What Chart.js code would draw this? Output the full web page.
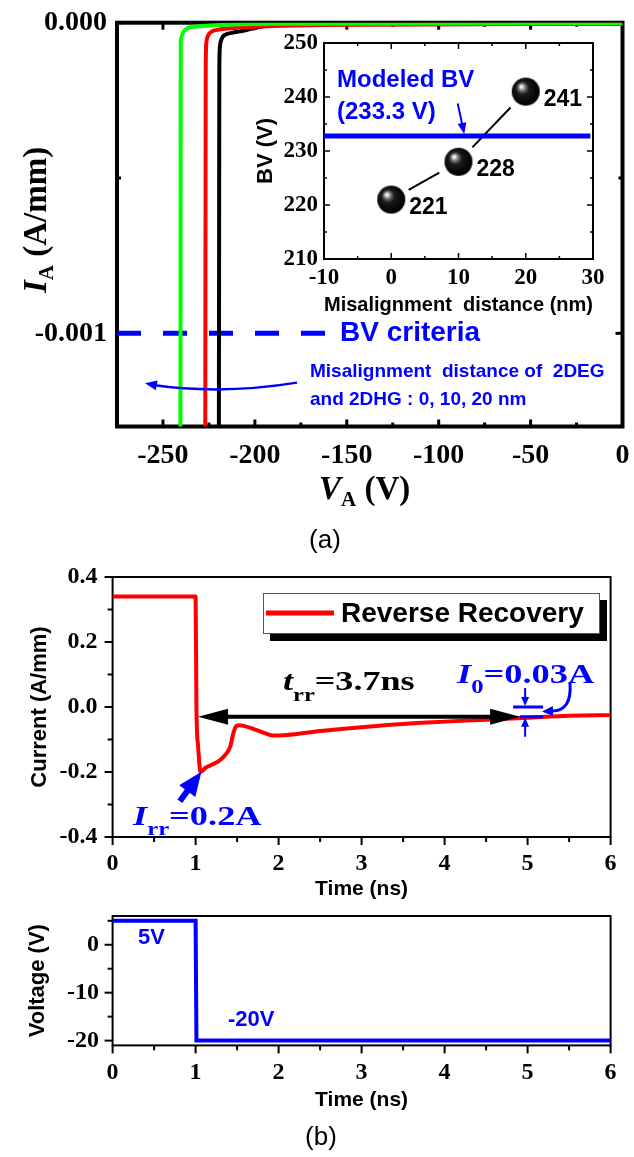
<!DOCTYPE html>
<html><head><meta charset="utf-8">
<script src="https://cdn.jsdelivr.net/npm/chart.js@4.4.0/dist/chart.umd.min.js"></script>
<style>
html,body{margin:0;padding:0;background:#fff;}
body{width:634px;height:1157px;position:relative;overflow:hidden;}
canvas{position:absolute;display:block;}
</style></head>
<body>
<canvas id="cA" width="634" height="560" style="left:0;top:0;width:634px;height:560px"></canvas>
<canvas id="cIn" width="400" height="305" style="left:230px;top:20px;width:400px;height:305px"></canvas>
<canvas id="cB" width="634" height="345" style="left:0;top:560px;width:634px;height:345px"></canvas>
<canvas id="cC" width="634" height="252" style="left:0;top:905px;width:634px;height:252px"></canvas>
<script>
// ---------------- (a) main I-V curves (V_A in V, I_A in A/mm) ----------------
const vGreen = [-240.5, -240.4, -240.35, -240.3, -239.8, -239.0, -238.0, -236.5, -234.5, -231, -225, -212, -190, 0];
const iGreen = [-1.4e-3, -7e-4, -2e-4, -6e-5, -4.3e-5, -3.1e-5, -2.3e-5, -1.75e-5, -1.4e-5, -1.15e-5, -9e-6, -5.5e-6, -3e-6, -2e-6];
const vRed = [-227.0, -226.85, -226.75, -226.6, -226.3, -225.7, -224.8, -223.6, -222, -219.5, -215, -205, -190, -150, 0];
const iRed = [-1.4e-3, -7e-4, -2e-4, -9e-5, -6e-5, -4.5e-5, -3.5e-5, -2.9e-5, -2.5e-5, -2.2e-5, -1.9e-5, -1.5e-5, -1.1e-5, -7e-6, -4e-6];
const vBlack = [-219.6, -219.45, -219.35, -219.2, -218.9, -218.3, -217.4, -216.2, -214.5, -212, -208, -202, -196, -185, -150, 0];
const iBlack = [-1.4e-3, -7e-4, -2e-4, -1e-4, -7.2e-5, -5.6e-5, -4.5e-5, -3.9e-5, -3.5e-5, -3.2e-5, -2.8e-5, -2e-5, -1.2e-5, -8e-6, -5e-6, -4e-6];
const mainXTicks = [-250, -200, -150, -100, -50, 0];
const mainXTickLabels = ['-250', '-200', '-150', '-100', '-50', '0'];
const mainXMinor = [-275, -225, -175, -125, -75, -25];
const mainYTicks = [0, -0.001];
const mainYTickLabels = ['0.000', '-0.001'];
const mainYMinor = [-0.0005];
const bvCriteria = -0.001;
const bvCriteriaEnd = -161.5;

// ---------------- inset: BV vs misalignment ----------------
const misalign = [0, 10, 20];
const bvValues = [221, 228, 241];
const modeledBV = 232.8;
const insetXTicks = [-10, 0, 10, 20, 30];
const insetXTickLabels = ['-10', '0', '10', '20', '30'];
const insetXMinor = [-5, 5, 15, 25];
const insetYTicks = [210, 220, 230, 240, 250];
const insetYTickLabels = ['210', '220', '230', '240', '250'];
const insetYMinor = [215, 225, 235, 245];

// ---------------- (b) reverse recovery current ----------------
const tCurrent = [0, 1.0, 1.01, 1.03, 1.06, 1.12, 1.2, 1.27, 1.33, 1.38, 1.42, 1.45, 1.48, 1.52, 1.58, 1.7, 1.85, 1.93, 2.1, 2.5, 3.0, 3.5, 4.0, 4.5, 5.0, 5.5, 6.0];
const iCurrent = [0.34, 0.34, 0.0, -0.12, -0.2, -0.187, -0.177, -0.168, -0.155, -0.14, -0.12, -0.085, -0.062, -0.056, -0.058, -0.068, -0.082, -0.088, -0.086, -0.074, -0.062, -0.052, -0.045, -0.039, -0.033, -0.027, -0.025];
const timeTicks = [0, 1, 2, 3, 4, 5, 6];
const timeTickLabels = ['0', '1', '2', '3', '4', '5', '6'];
const timeMinor = [0.5, 1.5, 2.5, 3.5, 4.5, 5.5];
const curYTicks = [0.4, 0.2, 0.0, -0.2, -0.4];
const curYTickLabels = ['0.4', '0.2', '0.0', '-0.2', '-0.4'];
const curYMinor = [0.3, 0.1, -0.1, -0.3];
const trrStart = 1.03, trrEnd = 4.91, trrLevel = -0.03;
const irrTail = [0.81, -0.29], irrTip = [1.07, -0.199];

// ---------------- (b) applied voltage ----------------
const tVoltage = [0, 1.0, 1.01, 6];
const vVoltage = [5, 5, -20, -20];
const voltYTicks = [0, -10, -20];
const voltYTickLabels = ['0', '-10', '-20'];
const voltYMinor = [5, -5, -15];

// ---------------- helpers ----------------
const BLUE = '#0000ff';
const SERIF = '"Liberation Serif","Times New Roman",serif';
const SANS = '"Liberation Sans",Arial,sans-serif';
const pts = (xs, ys) => xs.map((x, i) => ({x, y: ys[i]}));

function axis(vals, labels, font, pad, size, isX, extra) {
  return Object.assign({
    type: 'linear',
    afterBuildTicks: s => { s.ticks = vals.map(v => ({value: v})); },
    afterFit: s => {
      if (isX) s.height = size; else s.width = size;
      s.paddingTop = 0; s.paddingBottom = 0; s.paddingLeft = 0; s.paddingRight = 0;
    },
    ticks: {font, color: '#000', padding: pad, autoSkip: false, maxRotation: 0, minRotation: 0,
            callback: (v, i) => labels[i]},
    grid: {display: false, drawTicks: false},
    border: {display: false}
  }, extra || {});
}

function makeFrame(cfg) {
  return {
    id: 'frame',
    beforeDatasetsDraw(chart) {
      const {ctx, chartArea: a} = chart;
      const sx = chart.scales.x, sy = chart.scales.y;
      ctx.save();
      ctx.strokeStyle = '#000';
      ctx.lineWidth = cfg.tickWidth;
      const dx = (vals, len) => vals.forEach(v => {
        const p = sx.getPixelForValue(v);
        ctx.beginPath(); ctx.moveTo(p, a.bottom); ctx.lineTo(p, a.bottom - (cfg.inward ? len : -len)); ctx.stroke();
        if (cfg.mirror) { ctx.beginPath(); ctx.moveTo(p, a.top); ctx.lineTo(p, a.top + (cfg.inward ? len : -len)); ctx.stroke(); }
      });
      const dy = (vals, len) => vals.forEach(v => {
        const p = sy.getPixelForValue(v);
        ctx.beginPath(); ctx.moveTo(a.left, p); ctx.lineTo(a.left + (cfg.inward ? len : -len), p); ctx.stroke();
        if (cfg.mirror) { ctx.beginPath(); ctx.moveTo(a.right, p); ctx.lineTo(a.right - (cfg.inward ? len : -len), p); ctx.stroke(); }
      });
      dx(cfg.xMajor, cfg.major); dx(cfg.xMinor, cfg.minor);
      dy(cfg.yMajor, cfg.major); dy(cfg.yMinor, cfg.minor);
      ctx.lineWidth = cfg.lineWidth;
      ctx.strokeRect(a.left, a.top, a.right - a.left, a.bottom - a.top);
      ctx.restore();
    }
  };
}

function text(ctx, s, x, y, font, color, align, baseline, sx) {
  ctx.save(); ctx.translate(x, y); ctx.scale(sx || 1, 1);
  ctx.font = font; ctx.fillStyle = color; ctx.textAlign = align || 'left'; ctx.textBaseline = baseline || 'middle';
  ctx.fillText(s, 0, 0); ctx.restore();
}
function rich(ctx, parts, x, y, color, sx, rot) {
  ctx.save(); ctx.translate(x, y); if (rot) ctx.rotate(rot); ctx.scale(sx || 1, 1);
  ctx.fillStyle = color; ctx.textAlign = 'left'; ctx.textBaseline = 'alphabetic';
  let cx = 0;
  for (const p of parts) { ctx.font = p.f; ctx.fillText(p.t, cx, p.dy || 0); cx += ctx.measureText(p.t).width; }
  ctx.restore();
}
function head(ctx, x1, y1, x2, y2, len, half) {
  const a = Math.atan2(y2 - y1, x2 - x1), c = Math.cos(a), s = Math.sin(a);
  ctx.beginPath(); ctx.moveTo(x2, y2);
  ctx.lineTo(x2 - len * c + half * s, y2 - len * s - half * c);
  ctx.lineTo(x2 - len * c - half * s, y2 - len * s + half * c);
  ctx.closePath(); ctx.fill();
}
function arrow(ctx, x1, y1, x2, y2, lw, len, half, color) {
  ctx.save(); ctx.strokeStyle = color; ctx.fillStyle = color; ctx.lineWidth = lw;
  const a = Math.atan2(y2 - y1, x2 - x1);
  ctx.beginPath(); ctx.moveTo(x1, y1); ctx.lineTo(x2 - len * 0.7 * Math.cos(a), y2 - len * 0.7 * Math.sin(a)); ctx.stroke();
  head(ctx, x1, y1, x2, y2, len, half); ctx.restore();
}
function makeSphere(r) {
  const c = document.createElement('canvas'); const s = 2 * r + 2; c.width = s; c.height = s;
  const g = c.getContext('2d'); const cx = r + 1, cy = r + 1;
  const gr = g.createRadialGradient(cx - r * 0.33, cy - r * 0.38, 0, cx - r * 0.1, cy - r * 0.1, r * 1.05);
  gr.addColorStop(0, '#ffffff'); gr.addColorStop(0.1, '#e0e0e0'); gr.addColorStop(0.25, '#707070');
  gr.addColorStop(0.45, '#1a1a1a'); gr.addColorStop(1, '#000000');
  g.fillStyle = gr; g.beginPath(); g.arc(cx, cy, r, 0, Math.PI * 2); g.fill();
  return c;
}

const common = {
  responsive: false, animation: false, devicePixelRatio: 1, events: [],
  plugins: {legend: {display: false}, tooltip: {enabled: false}}
};
const lineDs = (label, data, color, w) => ({label, data, borderColor: color, backgroundColor: color, borderWidth: w,
  pointRadius: 0, fill: false, cubicInterpolationMode: 'monotone', borderJoinStyle: 'round', borderCapStyle: 'butt'});

// ================= (a) main chart =================
new Chart(document.getElementById('cA'), {
  type: 'line',
  data: {datasets: [
    lineDs('20 nm', pts(vGreen, iGreen), '#00ff00', 4),
    lineDs('10 nm', pts(vRed, iRed), '#ff0000', 4),
    lineDs('0 nm', pts(vBlack, iBlack), '#000000', 4)
  ]},
  options: Object.assign({}, common, {
    layout: {padding: {left: 0, top: 22.7, right: 11.5, bottom: 0}},
    scales: {
      x: axis(mainXTicks, mainXTickLabels, {family: SERIF, size: 28, weight: 'bold'}, 12, 133.5, true, {min: -275, max: 0}),
      y: axis(mainYTicks, mainYTickLabels, {family: SERIF, size: 28, weight: 'bold'}, 10, 117, false, {min: -0.0013, max: 0})
    }
  }),
  plugins: [
    makeFrame({inward: true, mirror: true, lineWidth: 4, tickWidth: 3, major: 7, minor: 4,
      xMajor: mainXTicks, xMinor: mainXMinor, yMajor: mainYTicks, yMinor: mainYMinor}),
    {
      id: 'annA',
      beforeDatasetsDraw(chart) {
        const {ctx} = chart, X = v => chart.scales.x.getPixelForValue(v), Y = v => chart.scales.y.getPixelForValue(v);
        ctx.save(); ctx.strokeStyle = BLUE; ctx.lineWidth = 5; ctx.setLineDash([24, 22]);
        ctx.beginPath(); ctx.moveTo(X(-275), Y(bvCriteria)); ctx.lineTo(X(bvCriteriaEnd), Y(bvCriteria)); ctx.stroke();
        ctx.restore();
      },
      afterDatasetsDraw(chart) {
        const {ctx} = chart, X = v => chart.scales.x.getPixelForValue(v), Y = v => chart.scales.y.getPixelForValue(v);
        text(ctx, 'BV criteria', 340, Y(bvCriteria), 'bold 28px ' + SANS, BLUE);
        text(ctx, 'Misalignment  distance of  2DEG', 310, 372, 'bold 19px ' + SANS, BLUE);
        text(ctx, 'and 2DHG : 0, 10, 20 nm', 310, 400, 'bold 19px ' + SANS, BLUE);
        // curved arrow
        const x1 = X(-177.1), y1 = Y(-0.0011588), cx = X(-218.4), cy = Y(-0.0011985), x2 = X(-259.8), y2 = Y(-0.0011608);
        ctx.save(); ctx.strokeStyle = BLUE; ctx.fillStyle = BLUE; ctx.lineWidth = 2.5;
        ctx.beginPath(); ctx.moveTo(x1, y1); ctx.quadraticCurveTo(cx, cy, x2 + 6, y2 + 1.5); ctx.stroke();
        head(ctx, x2 + 14, y2 + 2.5, x2, y2, 12, 5);
        ctx.restore();
        // axis titles
        const T = (st) => st + ' ' + SERIF;
        rich(ctx, [{t: 'I', f: T('italic bold 33px')}, {t: 'A', f: T('bold 21px'), dy: 7}, {t: ' (A/mm)', f: T('bold 33px')}],
          46, 293, '#000', 1, -Math.PI / 2);
        rich(ctx, [{t: 'V', f: T('italic bold 33px')}, {t: 'A', f: T('bold 21px'), dy: 7}, {t: ' (V)', f: T('bold 33px')}],
          319, 499, '#000', 1);
        text(ctx, '(a)', 325, 541, '26px ' + SANS, '#000', 'center', 'middle');
      }
    }
  ]
});

// ================= inset =================
const sphere = makeSphere(14);
new Chart(document.getElementById('cIn'), {
  type: 'line',
  data: {datasets: [
    {label: 'BV', data: pts(misalign, bvValues), showLine: false, pointStyle: sphere, pointRadius: 14, borderWidth: 0},
    {label: 'Modeled BV', data: [{x: -10, y: modeledBV}, {x: 29.6, y: modeledBV}], borderColor: BLUE, borderWidth: 5, pointRadius: 0, fill: false}
  ]},
  options: Object.assign({}, common, {
    layout: {padding: {left: 0, top: 23, right: 37, bottom: 0}},
    scales: {
      x: axis(insetXTicks, insetXTickLabels, {family: SERIF, size: 23, weight: 'bold'}, 5, 66, true,
        {min: -10, max: 30, title: {display: true, text: 'Misalignment  distance (nm)', color: '#000',
          font: {family: SANS, size: 21, weight: 'bold'}, padding: {top: 0, bottom: 7.4}}}),
      y: axis(insetYTicks, insetYTickLabels, {family: SERIF, size: 23, weight: 'bold'}, 6, 94, false,
        {min: 210, max: 250, title: {display: true, text: 'BV (V)', color: '#000',
          font: {family: SANS, size: 22, weight: 'bold'}, padding: {top: 23, bottom: 0}}})
    }
  }),
  plugins: [
    makeFrame({inward: true, mirror: true, lineWidth: 2, tickWidth: 1.5, major: 6, minor: 3,
      xMajor: insetXTicks, xMinor: insetXMinor, yMajor: insetYTicks, yMinor: insetYMinor}),
    {
      id: 'annIn',
      beforeDatasetsDraw(chart) {
        const {ctx} = chart; const pts0 = chart.getDatasetMeta(0).data;
        ctx.save(); ctx.strokeStyle = '#000'; ctx.lineWidth = 2;
        for (let i = 0; i < pts0.length - 1; i++) {
          const a = pts0[i], b = pts0[i + 1]; const dx = b.x - a.x, dy = b.y - a.y, L = Math.hypot(dx, dy);
          const t0 = 20 / L, t1 = 1 - 22 / L;
          ctx.beginPath(); ctx.moveTo(a.x + dx * t0, a.y + dy * t0); ctx.lineTo(a.x + dx * t1, a.y + dy * t1); ctx.stroke();
        }
        ctx.restore();
      },
      afterDatasetsDraw(chart) {
        const {ctx} = chart, X = v => chart.scales.x.getPixelForValue(v), Y = v => chart.scales.y.getPixelForValue(v);
        chart.getDatasetMeta(0).data.forEach((p, i) => {
          text(ctx, String(bvValues[i]), p.x + 18, p.y + 8, 'bold 23px ' + SANS, '#000');
        });
        text(ctx, 'Modeled BV', 107, 60, 'bold 24px ' + SANS, BLUE);
        text(ctx, '(233.3 V)', 107, 92, 'bold 24px ' + SANS, BLUE);
        arrow(ctx, X(9.88), Y(238.8), X(10.86), Y(modeledBV) - 2, 2, 11, 4.5, BLUE);
      }
    }
  ]
});

// ================= (b) current =================
new Chart(document.getElementById('cB'), {
  type: 'line',
  data: {datasets: [lineDs('Reverse Recovery', pts(tCurrent, iCurrent), '#ff0000', 4)]},
  options: Object.assign({}, common, {
    layout: {padding: {left: 0, top: 17, right: 23.4, bottom: 0}},
    scales: {
      x: axis(timeTicks, timeTickLabels, {family: SERIF, size: 24, weight: 'bold'}, 12, 68, true,
        {min: 0, max: 6, title: {display: true, text: 'Time (ns)', color: '#000',
          font: {family: SANS, size: 21, weight: 'bold'}, padding: {top: 0, bottom: 3.4}}}),
      y: axis(curYTicks, curYTickLabels, {family: SERIF, size: 24, weight: 'bold'}, 15, 112.6, false,
        {min: -0.4, max: 0.4, title: {display: true, text: 'Current (A/mm)', color: '#000',
          font: {family: SANS, size: 22, weight: 'bold'}, padding: {top: 27, bottom: 0}}})
    }
  }),
  plugins: [
    makeFrame({inward: false, mirror: false, lineWidth: 2, tickWidth: 2, major: 8, minor: 5,
      xMajor: timeTicks, xMinor: timeMinor, yMajor: curYTicks, yMinor: curYMinor}),
    {
      id: 'annB',
      afterDatasetsDraw(chart) {
        const {ctx} = chart, X = v => chart.scales.x.getPixelForValue(v), Y = v => chart.scales.y.getPixelForValue(v);
        // t_rr double arrow
        const xa = X(trrStart), xb = X(trrEnd), ya = Y(trrLevel);
        ctx.save(); ctx.strokeStyle = '#000'; ctx.fillStyle = '#000'; ctx.lineWidth = 4;
        ctx.beginPath(); ctx.moveTo(xa + 20, ya); ctx.lineTo(xb - 20, ya); ctx.stroke();
        head(ctx, xb, ya, xa, ya, 30, 8); head(ctx, xa, ya, xb, ya, 30, 8);
        ctx.restore();
        // I_rr arrow
        arrow(ctx, X(irrTail[0]), Y(irrTail[1]), X(irrTip[0]), Y(irrTip[1]), 6, 24, 10, BLUE);
        // I_0 markers
        const xm = X(4.97), yTop = Y(0.0), yBot = Y(trrLevel);
        ctx.save(); ctx.strokeStyle = BLUE; ctx.fillStyle = BLUE; ctx.lineWidth = 3;
        ctx.beginPath(); ctx.moveTo(xm - 12, yTop); ctx.lineTo(xm + 18, yTop); ctx.stroke();
        ctx.beginPath(); ctx.moveTo(xm - 5, yBot); ctx.lineTo(xm + 18, yBot); ctx.stroke();
        ctx.lineWidth = 2;
        ctx.beginPath(); ctx.moveTo(xm, yTop - 19); ctx.lineTo(xm, yTop - 6); ctx.stroke();
        head(ctx, xm, yTop - 19, xm, yTop - 1, 9, 4);
        ctx.beginPath(); ctx.moveTo(xm, yBot + 20); ctx.lineTo(xm, yBot + 7); ctx.stroke();
        head(ctx, xm, yBot + 20, xm, yBot + 1, 9, 4);
        // curved pointer from the label
        ctx.lineWidth = 3;
        ctx.beginPath(); ctx.moveTo(570, 123); ctx.quadraticCurveTo(572, 151, 552, 151); ctx.stroke();
        head(ctx, 556, 151, 542, 151.5, 11, 5);
        ctx.restore();
        // labels
        const S = st => st + ' ' + SERIF;
        rich(ctx, [{t: 't', f: S('italic bold 28px')}, {t: 'rr', f: S('bold 19px'), dy: 11}, {t: '=3.7ns', f: S('bold 28px')}],
          283, 130, '#000', 1.29);
        rich(ctx, [{t: 'I', f: S('italic bold 28px')}, {t: '0', f: S('bold 19px'), dy: 10}, {t: '=0.03A', f: S('bold 28px')}],
          457, 123, BLUE, 1.3);
        rich(ctx, [{t: 'I', f: S('italic bold 28px')}, {t: 'rr', f: S('bold 19px'), dy: 10}, {t: '=0.2A', f: S('bold 28px')}],
          133, 265, BLUE, 1.3);
        // legend
        ctx.save();
        ctx.fillStyle = '#000'; ctx.fillRect(270, 40, 337, 41);
        ctx.fillStyle = '#fff'; ctx.fillRect(263, 33, 337, 41);
        ctx.strokeStyle = '#555'; ctx.lineWidth = 1; ctx.strokeRect(263.5, 33.5, 336, 40);
        ctx.strokeStyle = '#ff0000'; ctx.lineWidth = 5; ctx.beginPath(); ctx.moveTo(266, 53); ctx.lineTo(334, 53); ctx.stroke();
        ctx.restore();
        text(ctx, chart.data.datasets[0].label, 341, 54, 'bold 28px ' + SANS, '#000');
      }
    }
  ]
});

// ================= (b) voltage =================
new Chart(document.getElementById('cC'), {
  type: 'line',
  data: {datasets: [{label: 'Voltage', data: pts(tVoltage, vVoltage), borderColor: BLUE, borderWidth: 4, pointRadius: 0, fill: false}]},
  options: Object.assign({}, common, {
    layout: {padding: {left: 0, top: 11, right: 23.4, bottom: 40}},
    scales: {
      x: axis(timeTicks, timeTickLabels, {family: SERIF, size: 24, weight: 'bold'}, 13, 71.6, true,
        {min: 0, max: 6, title: {display: true, text: 'Time (ns)', color: '#000',
          font: {family: SANS, size: 21, weight: 'bold'}, padding: {top: 0, bottom: 4.4}}}),
      y: axis(voltYTicks, voltYTickLabels, {family: SERIF, size: 24, weight: 'bold'}, 13.6, 112.6, false,
        {min: -21, max: 6, title: {display: true, text: 'Voltage (V)', color: '#000',
          font: {family: SANS, size: 22, weight: 'bold'}, padding: {top: 25, bottom: 0}}})
    }
  }),
  plugins: [
    makeFrame({inward: false, mirror: false, lineWidth: 2, tickWidth: 2, major: 8, minor: 5,
      xMajor: timeTicks, xMinor: timeMinor, yMajor: voltYTicks, yMinor: voltYMinor}),
    {
      id: 'annC',
      afterDraw(chart) {
        const {ctx} = chart;
        text(ctx, '5V', 138, 33, 'bold 22px ' + SANS, BLUE);
        text(ctx, '-20V', 228, 115, 'bold 22px ' + SANS, BLUE);
        text(ctx, '(b)', 321, 233, '26px ' + SANS, '#000', 'center', 'middle');
      }
    }
  ]
});
</script>
</body></html>
